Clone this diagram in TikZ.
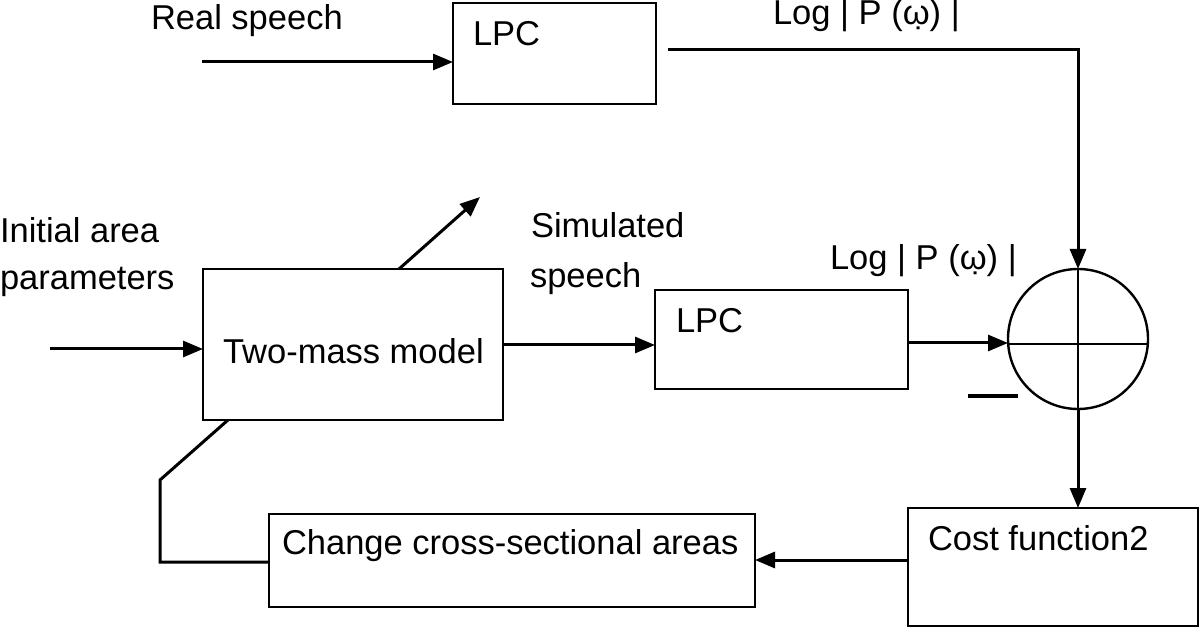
\documentclass[tikz,border=0pt]{standalone}
\usepackage{fontspec}
\setmainfont{Liberation Sans}
\usetikzlibrary{arrows.meta}
\begin{document}
\begin{tikzpicture}[x=1pt,y=-1pt,
  every node/.style={font=\fontsize{34.5}{40}\selectfont},
  blk/.style={draw, line width=2.4pt, rectangle, inner sep=0pt, outer sep=0pt},
  txt/.style={anchor=base west, inner sep=0pt, outer sep=0pt},
  ln/.style={line width=3pt},
  arr/.style={line width=3pt, -{Triangle[length=20pt,width=16pt]}}]
\useasboundingbox (0,0) rectangle (1200,628);
% blocks
\node[blk, minimum width=203pt, minimum height=101pt] (lpc1) at (554.5,53.5) {};
\node[blk, minimum width=253pt, minimum height=99pt] (lpc2) at (781.5,339.5) {};
\node[blk, minimum width=300pt, minimum height=151pt] (tm) at (353,344.5) {};
\node[blk, circle, minimum size=140pt] (sum) at (1078,339) {};
\node[blk, minimum width=290pt, minimum height=118pt] (cost) at (1053,567) {};
\node[blk, minimum width=486pt, minimum height=93pt] (chg) at (512,560.5) {};
% texts
\node[txt] (t1) at (151,30) {Real speech};
\node[txt] (t2) at (473,46) {LPC};
\node[txt] (t3) at (773,25) {Log | P (ω̣) |};
\node[txt] (t4) at (0,243) {Initial area};
\node[txt] (t5) at (0,290) {parameters};
\node[txt] (t6) at (531,238) {Simulated};
\node[txt] (t7) at (530,288) {speech};
\node[txt] (t8) at (830,270) {Log | P (ω̣) |};
\node[txt] (t9) at (676,333) {LPC};
\node[txt] (t10) at (223,363) {Two-mass model};
\node[txt] (t11) at (928,550) {Cost function2};
\node[txt] (t12) at (282,554) {Change cross-sectional areas};
% cross inside summing circle
\draw[line width=2.4pt] (sum.west) ++(0,5) -- ++(140,0);
\draw[line width=2.4pt] (sum.north) -- (sum.south);
% minus sign
\coordinate (m1) at (968,396);
\coordinate (m2) at (1018,396);
\draw[line width=4pt] (m1) -- (m2);
% free ends
\coordinate (rs) at (202,62);
\coordinate (ia) at (50,349);
\coordinate (o1) at (668,50);
\coordinate (dtip) at (480,197);
\coordinate (dstart) at (399,269);
\coordinate (fb1) at (228,420);
\coordinate (fb2) at (160,480);
\coordinate (fb3) at (160,562);
% connectors
\draw[arr] (rs) -- (lpc1.west |- rs);
\draw[arr] (o1) -| (sum.north);
\draw[arr] (ia) -- (tm.west |- ia);
\draw[arr] (dstart) -- (dtip);
\draw[arr] (tm.east |- 0,345) -- (lpc2.west |- 0,345);
\draw[arr] (lpc2.east |- 0,343) -- (sum.west |- 0,343);
\draw[arr] (sum.south) -- (cost.north -| sum.south);
\draw[arr] (cost.west |- 0,560) -- (chg.east |- 0,560);
\draw[ln] (fb1) -- (fb2) -- (fb3) -- (chg.west |- fb3);
\end{tikzpicture}
\end{document}
